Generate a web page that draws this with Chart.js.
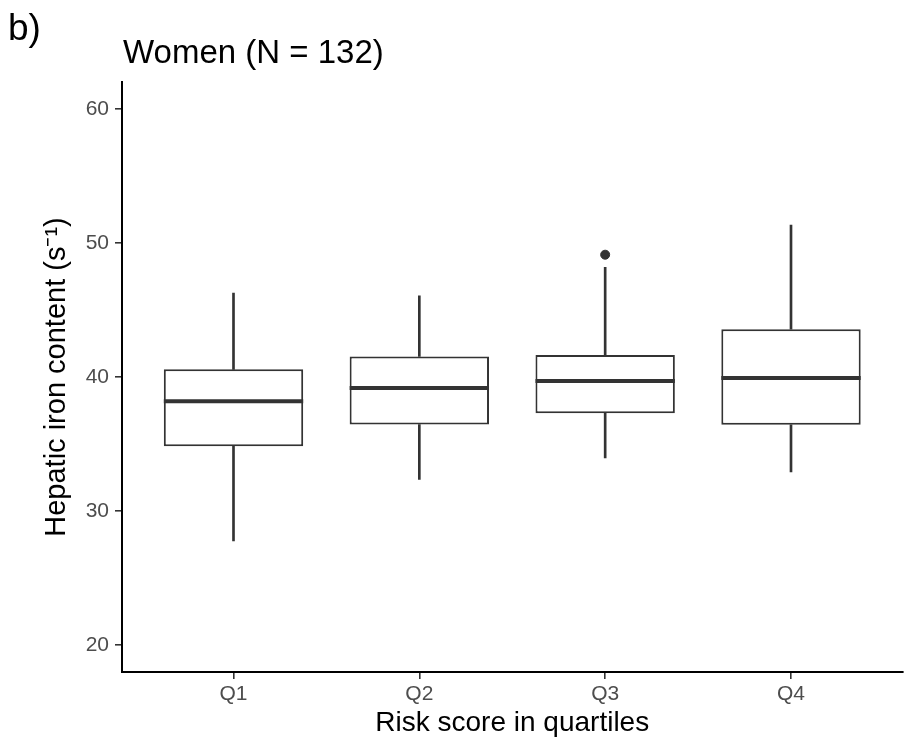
<!DOCTYPE html>
<html lang="en">
<head>
    <meta charset="UTF-8">
    <title>Hepatic iron content by risk score quartile</title>
    <script src="https://cdn.jsdelivr.net/npm/chart.js"></script>
    <style>
        html, body { margin: 0; padding: 0; background: #fff; }
        #wrap { width: 908px; height: 742px; position: relative; }
    </style>
</head>
<body>
    <div id="wrap"><canvas id="boxChart"></canvas></div>

    <script>
        // Values
        var categories = ['Q1', 'Q2', 'Q3', 'Q4'];
        var whiskerLow = [27.77, 32.36, 33.97, 32.93];
        var boxLow     = [34.84, 36.45, 37.29, 36.43];
        var medians    = [38.19, 39.18, 39.70, 39.93];
        var boxHigh    = [40.57, 41.53, 41.64, 43.57];
        var whiskerHigh = [46.25, 46.05, 48.18, 51.33];
        var outliers = [{ cat: 3, value: 49.12 }];
        var yTicks = [20, 30, 40, 50, 60];

        var fontFamily = '"Liberation Sans", Arial, sans-serif';
        var ink = '#333333';

        function ranges(lo, hi) {
            return categories.map(function (c, i) {
                return { x: i + 1, y: [lo[i], hi[i]] };
            });
        }

        // median lines and the panel labels
        var extras = {
            id: 'extras',
            afterDatasetsDraw: function (chart) {
                var ctx = chart.ctx;
                var yScale = chart.scales.y;
                var meta = chart.getDatasetMeta(2);
                ctx.save();
                ctx.strokeStyle = ink;
                ctx.lineWidth = 4;
                meta.data.forEach(function (bar, i) {
                    var y = yScale.getPixelForValue(medians[i]);
                    ctx.beginPath();
                    ctx.moveTo(bar.x - bar.width / 2, y);
                    ctx.lineTo(bar.x + bar.width / 2, y);
                    ctx.stroke();
                });
                ctx.restore();
            },
            afterDraw: function (chart) {
                var ctx = chart.ctx;
                ctx.save();
                ctx.fillStyle = '#000';
                ctx.textBaseline = 'alphabetic';
                ctx.font = '37px ' + fontFamily;
                ctx.fillText('b)', 8, 40);
                ctx.font = '33px ' + fontFamily;
                ctx.fillText('Women (N = 132)', chart.chartArea.left + 1, 63);
                ctx.restore();
            }
        };

        var ctx = document.getElementById('boxChart').getContext('2d');
        var boxChart = new Chart(ctx, {
            type: 'bar',
            data: {
                datasets: [{
                    label: 'upper whisker',
                    data: ranges(boxHigh, whiskerHigh),
                    backgroundColor: ink,
                    borderWidth: 0,
                    barThickness: 2,
                    grouped: false,
                    order: 3
                }, {
                    label: 'lower whisker',
                    data: ranges(whiskerLow, boxLow),
                    backgroundColor: ink,
                    borderWidth: 0,
                    barThickness: 2,
                    grouped: false,
                    order: 3
                }, {
                    label: 'box',
                    data: ranges(boxLow, boxHigh),
                    backgroundColor: '#ffffff',
                    borderColor: ink,
                    borderWidth: 2,
                    borderSkipped: false,
                    barPercentage: 0.75,
                    categoryPercentage: 1,
                    grouped: false,
                    order: 2
                }, {
                    type: 'scatter',
                    label: 'outliers',
                    data: outliers.map(function (o) { return { x: o.cat, y: o.value }; }),
                    backgroundColor: ink,
                    borderColor: ink,
                    pointRadius: 4.5,
                    order: 1
                }]
            },
            options: {
                responsive: true,
                maintainAspectRatio: false,
                animation: false,
                layout: { padding: { top: 82, right: 4, left: 0, bottom: 0 } },
                plugins: {
                    legend: { display: false },
                    tooltip: { enabled: false }
                },
                scales: {
                    x: {
                        type: 'linear',
                        min: 0.4,
                        max: 4.6,
                        offset: false,
                        afterBuildTicks: function (scale) {
                            scale.ticks = categories.map(function (c, i) { return { value: i + 1 }; });
                        },
                        afterFit: function (scale) { scale.height = 70; },
                        ticks: {
                            color: '#4d4d4d',
                            font: { family: fontFamily, size: 21 },
                            padding: 3,
                            maxRotation: 0,
                            callback: function (v) { return categories[v - 1]; }
                        },
                        grid: { offset: false, drawOnChartArea: false, drawTicks: true, tickLength: 7, color: ink, lineWidth: 1.6 },
                        border: { display: true, color: '#000', width: 2 },
                        title: {
                            display: true,
                            text: 'Risk score in quartiles',
                            color: '#000',
                            font: { family: fontFamily, size: 28 },
                            padding: { top: 0, bottom: 2 }
                        }
                    },
                    y: {
                        min: 18,
                        max: 62,
                        afterBuildTicks: function (scale) {
                            scale.ticks = yTicks.map(function (v) { return { value: v }; });
                        },
                        afterFit: function (scale) { scale.width = 122; },
                        ticks: {
                            color: '#4d4d4d',
                            font: { family: fontFamily, size: 21 },
                            padding: 6
                        },
                        grid: { drawOnChartArea: false, drawTicks: true, tickLength: 7, color: ink, lineWidth: 1.6 },
                        border: { display: true, color: '#000', width: 2 },
                        title: {
                            display: true,
                            text: 'Hepatic iron content (s\u207B\u00B9)',
                            color: '#000',
                            font: { family: fontFamily, size: 29 },
                            padding: { top: 40, bottom: 0 }
                        }
                    }
                }
            },
            plugins: [extras]
        });
    </script>
</body>
</html>
